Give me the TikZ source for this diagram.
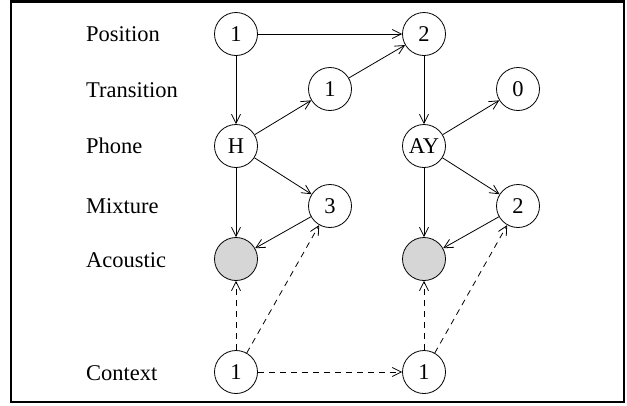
\documentclass[tikz,border=0pt]{standalone}
\usepackage{fontspec}
\setmainfont{Liberation Serif}
\usetikzlibrary{arrows.meta}
\begin{document}
\begin{tikzpicture}[x=1pt,y=-1pt,
  var/.style={circle,draw,line width=0.8pt,minimum size=43pt,inner sep=0pt,font=\fontsize{22.5}{26}\selectfont},
  obs/.style={var,fill=black!16},
  lab/.style={anchor=west,inner sep=0pt,font=\fontsize{22.5}{26}\selectfont},
  edge/.style={line width=0.8pt,-{Straight Barb[length=9pt,width=9pt]}},
  dedge/.style={edge,dash pattern=on 6pt off 5pt}]
\useasboundingbox (0,0) rectangle (627,405);
\draw[line width=2.5pt] (11,1.5) rectangle (624,402);
\node[lab] (lpos) at (86,34) {Position};
\node[lab] (ltra) at (86,90) {Transition};
\node[lab] (lpho) at (86,146) {Phone};
\node[lab] (lmix) at (86,206) {Mixture};
\node[lab] (laco) at (86,260) {Acoustic};
\node[lab] (lcon) at (86,373) {Context};
\node[var] (p1) at (236,34) {1};
\node[var] (p2) at (424,34) {2};
\node[var] (t1) at (330,89) {1};
\node[var] (t0) at (518,89) {0};
\node[var] (h) at (236,146) {H};
\node[var] (ay) at (424,146) {AY};
\node[var] (m3) at (330,206) {3};
\node[var] (m2) at (518,206) {2};
\node[obs] (a1) at (236,259) {};
\node[obs] (a2) at (424,259) {};
\node[var] (c1) at (236,372) {1};
\node[var] (c2) at (424,372) {1};
\draw[edge] (p1) -- (p2);
\draw[edge] (p1) -- (h);
\draw[edge] (h) -- (t1);
\draw[edge] (t1) -- (p2);
\draw[edge] (p2) -- (ay);
\draw[edge] (ay) -- (t0);
\draw[edge] (h) -- (m3);
\draw[edge] (h) -- (a1);
\draw[edge] (m3) -- (a1);
\draw[edge] (ay) -- (m2);
\draw[edge] (ay) -- (a2);
\draw[edge] (m2) -- (a2);
\draw[dedge] (c1) -- (a1);
\draw[dedge] (c1) -- (m3);
\draw[dedge] (c1) -- (c2);
\draw[dedge] (c2) -- (a2);
\draw[dedge] (c2) -- (m2);
\end{tikzpicture}
\end{document}
